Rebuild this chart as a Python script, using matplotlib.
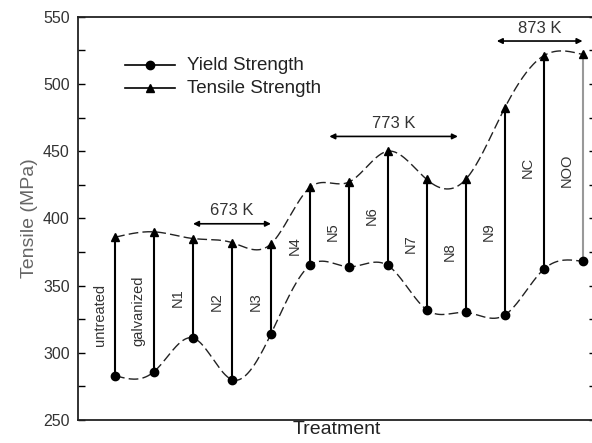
import numpy as np
import matplotlib.pyplot as plt

plt.rcParams['font.family'] = ['Liberation Sans', 'DejaVu Sans']

# values
treatments = ['untreated', 'galvanized', 'N1', 'N2', 'N3', 'N4', 'N5',
              'N6', 'N7', 'N8', 'N9', 'NC', 'NOO']
yield_str = [283, 286, 311, 280, 314, 365, 364, 365, 332, 330, 328, 362, 368]
tensile_str = [386, 390, 385, 382, 381, 423, 427, 450, 429, 429, 482, 521, 522]
label_y = [328, 331, 341, 338, 338, 380, 390, 402, 381, 375, 390, 438, 436]

# temperature groups: (label, x start, x end, y)
groups = [('673 K', 2, 4, 396), ('773 K', 5.5, 8.8, 461), ('873 K', 9.8, 12.0, 532)]


def spline(x, y, n=400):
    # natural cubic spline, only used to draw the smooth connecting curve
    x = np.asarray(x, float)
    y = np.asarray(y, float)
    k = len(x)
    h = np.diff(x)
    A = np.zeros((k, k))
    r = np.zeros(k)
    A[0, 0] = A[-1, -1] = 1
    for i in range(1, k - 1):
        A[i, i - 1] = h[i - 1]
        A[i, i] = 2 * (h[i - 1] + h[i])
        A[i, i + 1] = h[i]
        r[i] = 6 * ((y[i + 1] - y[i]) / h[i] - (y[i] - y[i - 1]) / h[i - 1])
    m = np.linalg.solve(A, r)
    xs = np.linspace(x[0], x[-1], n)
    idx = np.clip(np.searchsorted(x, xs) - 1, 0, k - 2)
    t = xs - x[idx]
    hi = h[idx]
    a = (m[idx + 1] - m[idx]) / (6 * hi)
    b = m[idx] / 2
    c = (y[idx + 1] - y[idx]) / hi - hi * (2 * m[idx] + m[idx + 1]) / 6
    return xs, y[idx] + c * t + b * t ** 2 + a * t ** 3


fig = plt.figure(figsize=(5.92, 4.43), dpi=100)
ax = fig.add_axes([0.132, 0.052, 0.875, 0.91])

x = np.arange(len(treatments))

xs, ys = spline(x, yield_str)
ax.plot(xs, ys, color='#222222', lw=1, dashes=(7, 3))
xs, ys = spline(x, tensile_str)
ax.plot(xs, ys, color='#222222', lw=1, dashes=(7, 3))

for i in range(len(x)):
    col = '#999999' if treatments[i] == 'NOO' else 'black'
    ax.vlines(x[i], yield_str[i], tensile_str[i] - 3, color=col, lw=1.5)
    ax.text(x[i] - 0.4, label_y[i], treatments[i], rotation=90,
            ha='center', va='center', fontsize=10.5, color='#333333')

ax.plot(x, yield_str, 'o', color='black', ms=6)
ax.plot(x, tensile_str, '^', color='black', ms=6)

for name, x0, x1, yy in groups:
    ax.annotate('', xy=(x0, yy), xytext=(x1, yy),
                arrowprops=dict(arrowstyle='<|-|>', color='black', lw=1.2,
                                mutation_scale=8, shrinkA=0, shrinkB=0))
    ax.text((x0 + x1) / 2, yy + 4, name, ha='center', va='bottom',
            fontsize=12, color='#333333')

# legend drawn as in the original (line + marker)
ax.plot([0.26, 1.54], [514, 514], color='black', lw=1.2)
ax.plot([0.9], [514], 'o', color='black', ms=6)
ax.plot([0.26, 1.54], [497, 497], color='black', lw=1.2)
ax.plot([0.9], [497], '^', color='black', ms=6)
ax.text(1.85, 514, 'Yield Strength', va='center', fontsize=13.5, color='#222222')
ax.text(1.85, 497, 'Tensile Strength', va='center', fontsize=13.5, color='#222222')

ax.set_xlim(-0.95, 12.35)
ax.set_ylim(250, 550)
ax.set_xticks([])
ax.set_yticks(np.arange(250, 551, 50))
ax.set_yticks(np.arange(275, 550, 50), minor=True)
ax.tick_params(axis='y', which='both', direction='in', right=True,
               labelsize=11.5, labelcolor='#333333', width=1, pad=6)
ax.tick_params(axis='y', which='major', length=5)
ax.tick_params(axis='y', which='minor', length=5)
for s in ax.spines.values():
    s.set_linewidth(1.3)
    s.set_color('#222222')
ax.set_ylabel('Tensile (MPa)', fontsize=14, color='#666666', labelpad=4)
ax.set_xlabel('Treatment', fontsize=14, color='#222222', labelpad=1)

fig.savefig('out.png', dpi=100)
